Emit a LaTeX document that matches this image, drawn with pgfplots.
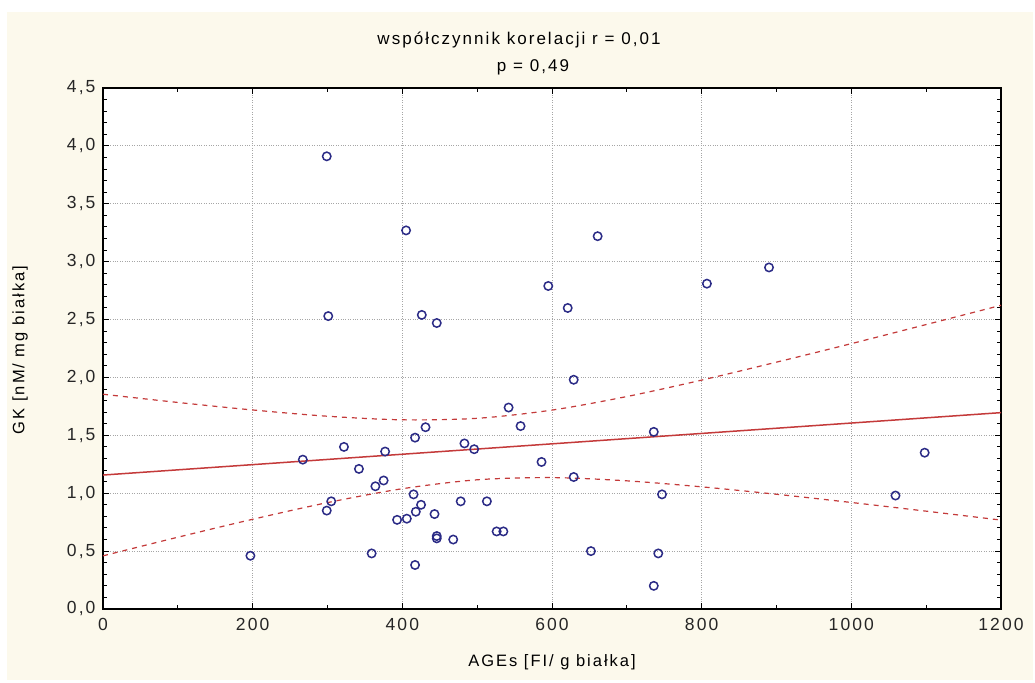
\documentclass[border=0pt]{standalone}
\usepackage{fontspec}
\setmainfont{Liberation Sans}[LetterSpace=12]
\usepackage{pgfplots}
\pgfplotsset{compat=1.18}

\definecolor{cream}{HTML}{FCF9EC}
\definecolor{ptblue}{HTML}{2B2B86}
\definecolor{fitred}{HTML}{C43A3A}

% scatter points: AGEs vs GK
\pgfplotstableread{
x y
197 0.46
267 1.29
299 3.91
299 0.85
301 2.53
305 0.93
322 1.40
342 1.21
359 0.48
364 1.06
375 1.11
377 1.36
393 0.77
405 3.27
406 0.78
415 0.99
417 1.48
417 0.38
418 0.84
425 0.90
426 2.54
431 1.57
443 0.82
446 2.47
446 0.61
446 0.63
468 0.60
478 0.93
483 1.43
496 1.38
513 0.93
526 0.67
535 0.67
542 1.74
558 1.58
586 1.27
595 2.79
621 2.60
629 1.98
629 1.14
652 0.50
661 3.22
736 1.53
736 0.20
742 0.48
747 0.99
807 2.81
890 2.95
1059 0.98
1098 1.35
}\points

% confidence band
\pgfplotstableread{
x up lo
0 1.855 0.459
100 1.784 0.620
200 1.719 0.775
300 1.665 0.919
400 1.634 1.039
500 1.647 1.116
600 1.718 1.135
700 1.835 1.107
800 1.977 1.055
900 2.132 0.991
1000 2.292 0.920
1100 2.457 0.845
1200 2.623 0.768
}\band

\begin{document}
\begin{tikzpicture}
\path[use as bounding box] (-103pt,-73pt) rectangle (932pt,609pt);
\fill[cream] (-96pt,-71pt) rectangle (930pt,597pt);
\begin{axis}[
    at={(0,0)}, anchor=south west,
    scale only axis, width=898pt, height=521pt,
    xmin=0, xmax=1200, ymin=0, ymax=4.5,
    xtick={0,200,400,600,800,1000,1200},
    ytick={0,0.5,1,1.5,2,2.5,3,3.5,4,4.5},
    minor x tick num=1, minor y tick num=4,
    tick align=inside,
    major tick length=6pt, minor tick length=4pt,
    tick style={black, line width=1pt},
    grid=major,
    major grid style={dotted, black!35, line width=1pt},
    axis line style={line width=1.6pt},
    axis background/.style={fill=white},
    ticklabel style={font=\fontsize{17.5}{20}\selectfont, black!85},
    /pgf/number format/assume math mode=true,
    x tick label style={yshift=-6pt, /pgf/number format/1000 sep={}},
    y tick label style={xshift=-4pt, /pgf/number format/.cd, fixed, fixed zerofill, precision=1, use comma},
]
\addplot[only marks, mark=o, mark size=4.2pt, ptblue, mark options={line width=1.5pt}] table[x=x, y=y] {\points};
\addplot[fitred, line width=1.5pt] coordinates {(0,1.157) (1200,1.696)};
\addplot[fitred, line width=1.2pt, dash pattern=on 5pt off 5pt, smooth] table[x=x, y=up] {\band};
\addplot[fitred, line width=1.2pt, dash pattern=on 5pt off 5pt, smooth] table[x=x, y=lo] {\band};
\end{axis}
\node[font=\fontsize{17}{20}\selectfont] at (416pt,569pt) {współczynnik korelacji r = 0,01};
\node[font=\fontsize{17}{20}\selectfont] at (430pt,542pt) {p = 0,49};
\node[font=\fontsize{16.5}{19}\selectfont] at (449pt,-53pt) {AGEs [FI/ g białka]};
\node[font=\fontsize{16.5}{19}\selectfont, rotate=90] at (-83pt,259pt) {GK [nM/ mg białka]};
\end{tikzpicture}
\end{document}
